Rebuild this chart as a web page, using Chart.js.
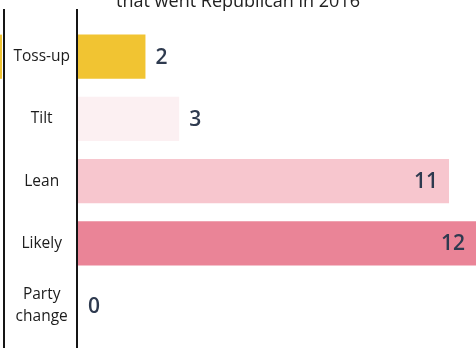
<!DOCTYPE html>
<html>
<head>
<meta charset="utf-8">
<script src="https://cdn.jsdelivr.net/npm/chart.js@4"></script>
<style>
  html, body { margin: 0; padding: 0; background: #fff; }
  #wrap { position: relative; width: 476px; height: 348px; overflow: hidden; }
  #ratings { position: absolute; left: 0; top: -20px; }
</style>
</head>
<body>
<div id="wrap"><canvas id="ratings" width="476" height="368"></canvas></div>
<script>
// categorias e número de distritos
const categories = ["Toss-up", "Tilt", "Lean", "Likely", ["Party", "change"]];
const seats = [2, 3, 11, 12, 0];
const titleText = "that went Republican in 2016";

const barColors = ["#f1c432", "#fcf0f2", "#f7c6ce", "#ea8497", "#ea8497"];
const valueColor = "#2e3a4f";

// linhas verticais, faixa amarela cortada e números nas barras
const decorations = {
    id: "decorations",
    afterDraw(chart) {
        const ctx = chart.ctx;
        const meta = chart.getDatasetMeta(0);
        const area = chart.chartArea;
        ctx.save();
        ctx.strokeStyle = "#151515";
        ctx.lineWidth = 2;
        [4, 77].forEach((x) => {
            ctx.beginPath();
            ctx.moveTo(x, 29);
            ctx.lineTo(x, chart.height);
            ctx.stroke();
        });

        const first = meta.data[0];
        ctx.fillStyle = barColors[0];
        ctx.fillRect(0, first.y - first.height / 2, 2, first.height);

        ctx.font = "600 21px 'Open Sans'";
        ctx.fillStyle = valueColor;
        ctx.textBaseline = "middle";
        meta.data.forEach((bar, i) => {
            const v = seats[i];
            const end = Math.min(bar.x, area.right);
            if (v > 5) {
                ctx.textAlign = "right";
                ctx.fillText(String(v), end - 11, bar.y + 1);
            } else {
                ctx.textAlign = "left";
                ctx.fillText(String(v), end + 10, bar.y + 1);
            }
        });
        ctx.restore();
    },
};

const ctx = document.getElementById("ratings").getContext("2d");
const ratingsChart = new Chart(ctx, {
    type: "bar",
    data: {
        labels: categories,
        datasets: [
            {
                data: seats,
                backgroundColor: barColors,
                borderWidth: 0,
                categoryPercentage: 1,
                barPercentage: 0.71,
            },
        ],
    },
    options: {
        indexAxis: "y",
        responsive: false,
        animation: false,
        devicePixelRatio: 1,
        layout: { padding: { left: 0, right: 0, top: 0, bottom: 5 } },
        plugins: {
            legend: { display: false },
            tooltip: { enabled: false },
            title: {
                display: true,
                text: titleText,
                color: "#222",
                font: { family: "'Open Sans'", size: 18, weight: "normal", lineHeight: 1.2 },
                padding: { top: 11, bottom: 13 },
            },
        },
        scales: {
            x: { display: false, min: 0, max: 11.8 },
            y: {
                grid: { display: false },
                border: { display: false },
                ticks: {
                    color: "#1c1c1c",
                    crossAlign: "center",
                    padding: 0,
                    font: { family: "'Open Sans'", size: 15.5, lineHeight: 1.45 },
                },
                afterFit(scale) {
                    scale.width = 78;
                },
            },
        },
    },
    plugins: [decorations],
});
</script>
</body>
</html>
